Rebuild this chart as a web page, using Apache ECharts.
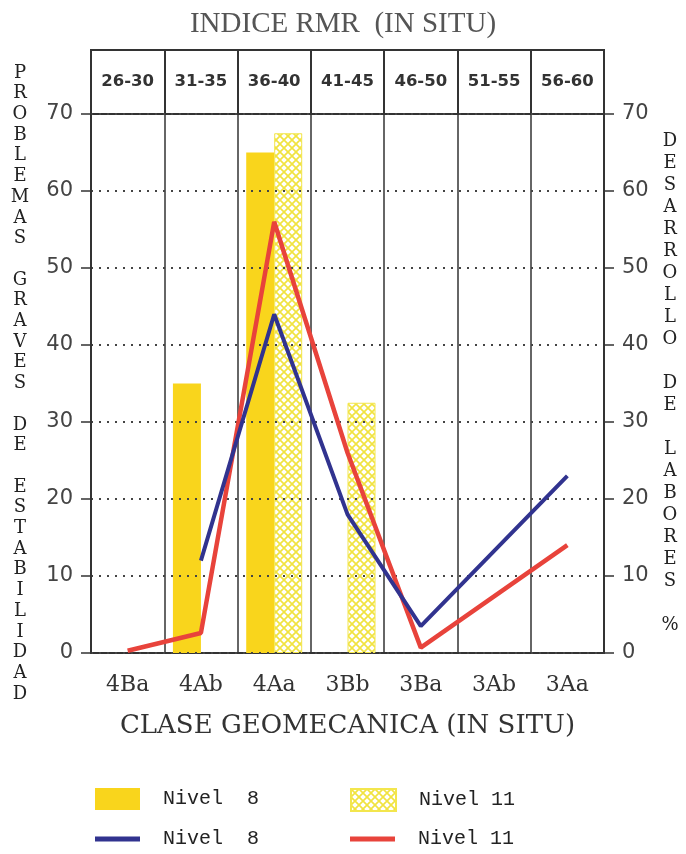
<!DOCTYPE html>
<html>
<head>
<meta charset="utf-8">
<title>Indice RMR</title>
<script src="https://cdn.jsdelivr.net/npm/echarts@6/dist/echarts.min.js"></script>
<style>
body{margin:0;background:#fff;}
#chart{width:686px;height:854px;}
</style>
</head>
<body>
<div id="chart"></div>
<script>
// datos
var clases = ['4Ba', '4Ab', '4Aa', '3Bb', '3Ba', '3Ab', '3Aa'];
var rangosRMR = ['26-30', '31-35', '36-40', '41-45', '46-50', '51-55', '56-60'];
var problemasNivel8 = [null, 35, 65, null, null, null, null];
var problemasNivel11 = [null, null, 67.5, 32.5, null, null, null];
var desarrolloNivel8 = [null, 12, 44, 18, 3.5, null, 23];
var desarrolloNivel11 = [0.3, 2.6, 56, 26, 0.7, null, 14];

var tituloIzq = 'PROBLEMAS GRAVES DE ESTABILIDAD';
var tituloDer = 'DESARROLLO DE LABORES %';

function vertical(txt) {
	return txt.split('').join('\n');
}

// trama cruzada para las barras del nivel 11
var hatch = document.createElement('canvas');
hatch.width = 8;
hatch.height = 8;
var ctx = hatch.getContext('2d');
ctx.fillStyle = '#ffffff';
ctx.fillRect(0, 0, 8, 8);
ctx.strokeStyle = '#F1E340';
ctx.lineWidth = 1.7;
ctx.beginPath();
ctx.moveTo(0, 0); ctx.lineTo(8, 8);
ctx.moveTo(8, 0); ctx.lineTo(0, 8);
ctx.stroke();
var hatchFill = {image: hatch, repeat: 'repeat'};

var ink = '#333';
var serif = 'DejaVu Serif';
var legendText = {fontFamily: 'Liberation Mono', fontSize: 20, color: '#222', padding: [0, 0, 0, 18]};

function leyenda(name, left, top, h) {
	return {
		left: left, top: top, itemWidth: 45, itemHeight: h, icon: 'rect',
		data: [name], textStyle: legendText
	};
}

var myChart = echarts.init(document.getElementById('chart'));
var option = {
	backgroundColor: '#fff',
	animation: false,
	title: {
		text: 'INDICE RMR  (IN SITU)',
		left: 'center',
		top: 5,
		textStyle: {fontFamily: 'Liberation Serif', fontSize: 29, fontWeight: 'normal', color: '#555'}
	},
	legend: [
		leyenda('Nivel  8', 90, 783, 22),
		leyenda('Nivel 11', 345, 783, 22),
		leyenda('Nivel\u00a0 8', 90, 824, 5),
		leyenda('Nivel\u00a011', 345, 824, 5)
	],
	grid: [
		{left: 91, right: 82, top: 114, bottom: 201},
		{left: 91, right: 82, top: 50, height: 64, show: true, borderColor: ink, borderWidth: 2}
	],
	xAxis: [
		{
			type: 'category',
			data: clases,
			name: 'CLASE GEOMECANICA (IN SITU)',
			nameLocation: 'middle',
			nameGap: 60,
			nameTextStyle: {fontFamily: serif, fontSize: 26, color: ink},
			axisLine: {lineStyle: {color: ink, width: 2}},
			axisTick: {alignWithLabel: true, length: 10, lineStyle: {color: ink, width: 1.5}},
			axisLabel: {margin: 21, fontFamily: serif, fontSize: 22, color: ink},
			splitLine: {show: true, lineStyle: {color: ink, width: 1.5}}
		},
		{
			type: 'category',
			gridIndex: 1,
			data: rangosRMR,
			axisLine: {show: false},
			axisTick: {show: false},
			axisLabel: {inside: true, margin: 24, fontFamily: 'DejaVu Sans', fontWeight: 'bold', fontSize: 16.5, color: '#333'},
			splitLine: {show: true, lineStyle: {color: ink, width: 2}}
		}
	],
	yAxis: [
		{
			type: 'value',
			min: 0, max: 70, interval: 10,
			z: 3,
			name: vertical(tituloIzq),
			nameLocation: 'middle',
			nameRotate: 0,
			nameGap: 71,
			nameTextStyle: {fontFamily: serif, fontSize: 18, color: '#222', lineHeight: 20.7, align: 'center', verticalAlign: 'middle'},
			axisLine: {show: true, lineStyle: {color: ink, width: 2}},
			axisTick: {show: true, length: 10, lineStyle: {color: ink, width: 1.5}},
			axisLabel: {margin: 18, fontFamily: 'DejaVu Sans', fontSize: 21, color: '#444'},
			splitLine: {show: true, lineStyle: {color: '#444', width: 2, type: [2, 6]}}
		},
		{
			type: 'value',
			position: 'right',
			min: 0, max: 70, interval: 10,
			z: 3,
			name: vertical(tituloDer),
			nameLocation: 'middle',
			nameRotate: 0,
			nameGap: 66,
			nameTextStyle: {fontFamily: serif, fontSize: 18, color: '#222', lineHeight: 22, align: 'center', verticalAlign: 'middle', padding: [22, 0, 0, 0]},
			axisLine: {show: true, lineStyle: {color: ink, width: 2}},
			axisTick: {show: true, length: 10, lineStyle: {color: ink, width: 1.5}},
			axisLabel: {margin: 18, fontFamily: 'DejaVu Sans', fontSize: 21, color: '#444'},
			splitLine: {show: false}
		},
		{type: 'value', gridIndex: 1, min: 0, max: 1, show: false}
	],
	series: [
		{
			name: 'Nivel  8',
			type: 'bar',
			barWidth: 28,
			barGap: '0%',
			itemStyle: {color: '#F9D51C'},
			data: problemasNivel8
		},
		{
			name: 'Nivel 11',
			type: 'bar',
			barWidth: 28,
			barGap: '0%',
			itemStyle: {color: hatchFill, borderColor: '#F3E64E', borderWidth: 1},
			data: problemasNivel11
		},
		{
			name: 'Nivel\u00a011',
			type: 'line',
			yAxisIndex: 1,
			z: 5,
			symbol: 'none',
			connectNulls: true,
			lineStyle: {color: '#E8433B', width: 4.5},
			itemStyle: {color: '#E8433B'},
			data: desarrolloNivel11
		},
		{
			name: 'Nivel\u00a0 8',
			type: 'line',
			yAxisIndex: 1,
			z: 6,
			symbol: 'none',
			connectNulls: true,
			lineStyle: {color: '#31338F', width: 4},
			itemStyle: {color: '#31338F'},
			data: desarrolloNivel8
		}
	]
};
myChart.setOption(option);
</script>
</body>
</html>
